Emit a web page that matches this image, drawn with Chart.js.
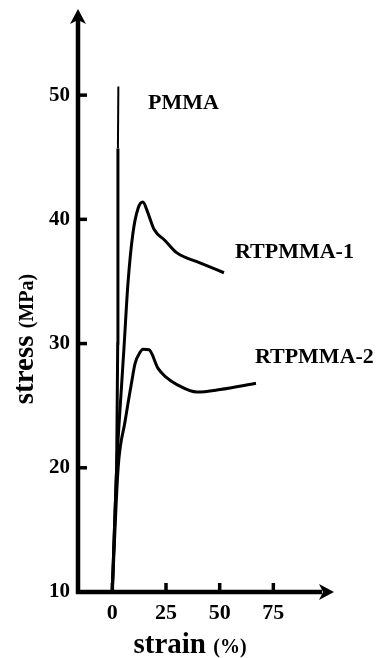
<!DOCTYPE html>
<html><head><meta charset="utf-8">
<style>html,body{margin:0;padding:0;background:#fff;}#wrap{width:383px;height:658px;}</style>
<script src="https://cdn.jsdelivr.net/npm/chart.js@4/dist/chart.umd.min.js"></script>
</head><body><div id="wrap"><canvas id="c" width="383" height="658"></canvas></div>
<script>
// ---- data ----
const xTicks = [0, 25, 50, 75];
const yTicks = [10, 20, 30, 40, 50];
const seriesNames = ['PMMA', 'RTPMMA-1', 'RTPMMA-2'];
const pmmaX = [0, 2.0, 2.5, 2.6, 2.8];
const pmmaY = [10.2, 20, 30, 45.7, 50.7];
const rt1X = [0, 2.0, 4.4, 5.4, 7.3, 9.6, 12.0, 14.2, 16.6, 19.4, 24.5, 30.1, 40.8, 52.0];
const rt1Y = [10.2, 20.0, 26.9, 29.6, 34.9, 38.9, 40.9, 41.4, 40.5, 39.2, 38.3, 37.3, 36.5, 35.7];
const rt2X = [0, 2.7, 5.9, 9.0, 10.6, 12.9, 14.3, 17.1, 21.3, 25.0, 30.1, 39.4, 50.2, 66.9];
const rt2Y = [10.2, 20.0, 23.7, 26.9, 28.4, 29.3, 29.55, 29.5, 28.0, 27.3, 26.7, 26.1, 26.3, 26.8];
const xTitleMain = 'strain', xTitleUnit = '(%)';
const yTitleMain = 'stress', yTitleUnit = '(MPa)';

const toPts = (xs, ys) => xs.map((x, i) => ({x: x, y: ys[i]}));
const SERIF = "'Liberation Serif','Times New Roman',serif";

const labelAnchors = [ {x: 16.6, y: 48.9}, {x: 57.1, y: 36.9}, {x: 66.4, y: 28.4} ];

const decor = {
  id: 'decor',
  beforeDraw(chart) {
    const c = chart.ctx;
    c.save(); c.fillStyle = '#fff'; c.fillRect(0, 0, chart.width, chart.height); c.restore();
  },
  afterDatasetsDraw(chart) {
    const c = chart.ctx, xs = chart.scales.x, ys = chart.scales.y, a = chart.chartArea;
    c.save();
    c.strokeStyle = '#000'; c.fillStyle = '#000';
    // axes
    c.lineWidth = 4.5; c.lineCap = 'butt';
    c.beginPath(); c.moveTo(a.left, a.bottom + 2); c.lineTo(a.left, 20); c.stroke();
    c.beginPath(); c.moveTo(a.left - 2, a.bottom); c.lineTo(322, a.bottom); c.stroke();
    // arrowheads
    c.beginPath(); c.moveTo(a.left, 9); c.lineTo(a.left + 8, 24); c.lineTo(a.left, 20); c.lineTo(a.left - 8, 24); c.closePath(); c.fill();
    c.beginPath(); c.moveTo(334, a.bottom); c.lineTo(319, a.bottom - 8); c.lineTo(323, a.bottom); c.lineTo(319, a.bottom + 8); c.closePath(); c.fill();
    // inward ticks
    c.lineWidth = 3.5;
    yTicks.forEach(v => { const p = ys.getPixelForValue(v); c.beginPath(); c.moveTo(a.left, p); c.lineTo(a.left + 9, p); c.stroke(); });
    xTicks.forEach(v => { const p = xs.getPixelForValue(v); c.beginPath(); c.moveTo(p, a.bottom); c.lineTo(p, a.bottom - 9); c.stroke(); });
    // curve labels
    c.font = 'bold 22px ' + SERIF; c.textBaseline = 'alphabetic'; c.textAlign = 'left';
    seriesNames.forEach((n, i) => {
      c.fillText(n, xs.getPixelForValue(labelAnchors[i].x), ys.getPixelForValue(labelAnchors[i].y));
    });
    // x title
    const fMain = 'bold 29px ' + SERIF, fUnit = 'bold 20px ' + SERIF;
    c.font = fMain; const w1 = c.measureText(xTitleMain + ' ').width;
    c.font = fUnit; const w2 = c.measureText(xTitleUnit).width;
    let sx = 190 - (w1 + w2) / 2;
    c.font = fMain; c.fillText(xTitleMain, sx, 653);
    c.font = fUnit; c.fillText(xTitleUnit, sx + w1, 653);
    // y title
    c.font = fMain; const v1 = c.measureText(yTitleMain + ' ').width;
    c.font = fUnit; const v2 = c.measureText(yTitleUnit).width;
    c.translate(33, 339); c.rotate(-Math.PI / 2);
    const sy = -(v1 + v2) / 2;
    c.font = fMain; c.fillText(yTitleMain, sy, 0);
    c.font = fUnit; c.fillText(yTitleUnit, sy + v1, 0);
    c.restore();
  }
};

new Chart(document.getElementById('c'), {
  type: 'scatter',
  data: {
    datasets: [
      { label: seriesNames[0], data: toPts(pmmaX, pmmaY), showLine: true, borderColor: '#000', borderWidth: 3, pointRadius: 0,
        segment: { borderWidth: ctx => ctx.p0DataIndex >= 3 ? 2 : 3 } },
      { label: seriesNames[1], data: toPts(rt1X, rt1Y), showLine: true, borderColor: '#000', borderWidth: 3, pointRadius: 0, cubicInterpolationMode: 'monotone' },
      { label: seriesNames[2], data: toPts(rt2X, rt2Y), showLine: true, borderColor: '#000', borderWidth: 3, pointRadius: 0, cubicInterpolationMode: 'monotone' }
    ]
  },
  options: {
    responsive: false, animation: false, devicePixelRatio: 1,
    layout: { padding: { top: 15, right: 56, left: 0, bottom: 0 } },
    plugins: { legend: { display: false }, tooltip: { enabled: false } },
    scales: {
      x: { type: 'linear', min: -16, max: 100,
        afterBuildTicks: s => { s.ticks = xTicks.map(v => ({value: v})); },
        afterFit: s => { s.height = 66; },
        grid: { display: false, drawTicks: false }, border: { display: false },
        ticks: { color: '#000', padding: 8, font: { family: SERIF, weight: 'bold', size: 22 }, maxRotation: 0 } },
      y: { type: 'linear', min: 10, max: 56,
        afterBuildTicks: s => { s.ticks = yTicks.map(v => ({value: v})); },
        afterFit: s => { s.width = 78; },
        grid: { display: false, drawTicks: false }, border: { display: false },
        ticks: { color: '#000', padding: 8, font: { family: SERIF, weight: 'bold', size: 21 } } }
    }
  },
  plugins: [decor]
});
</script></body></html>
